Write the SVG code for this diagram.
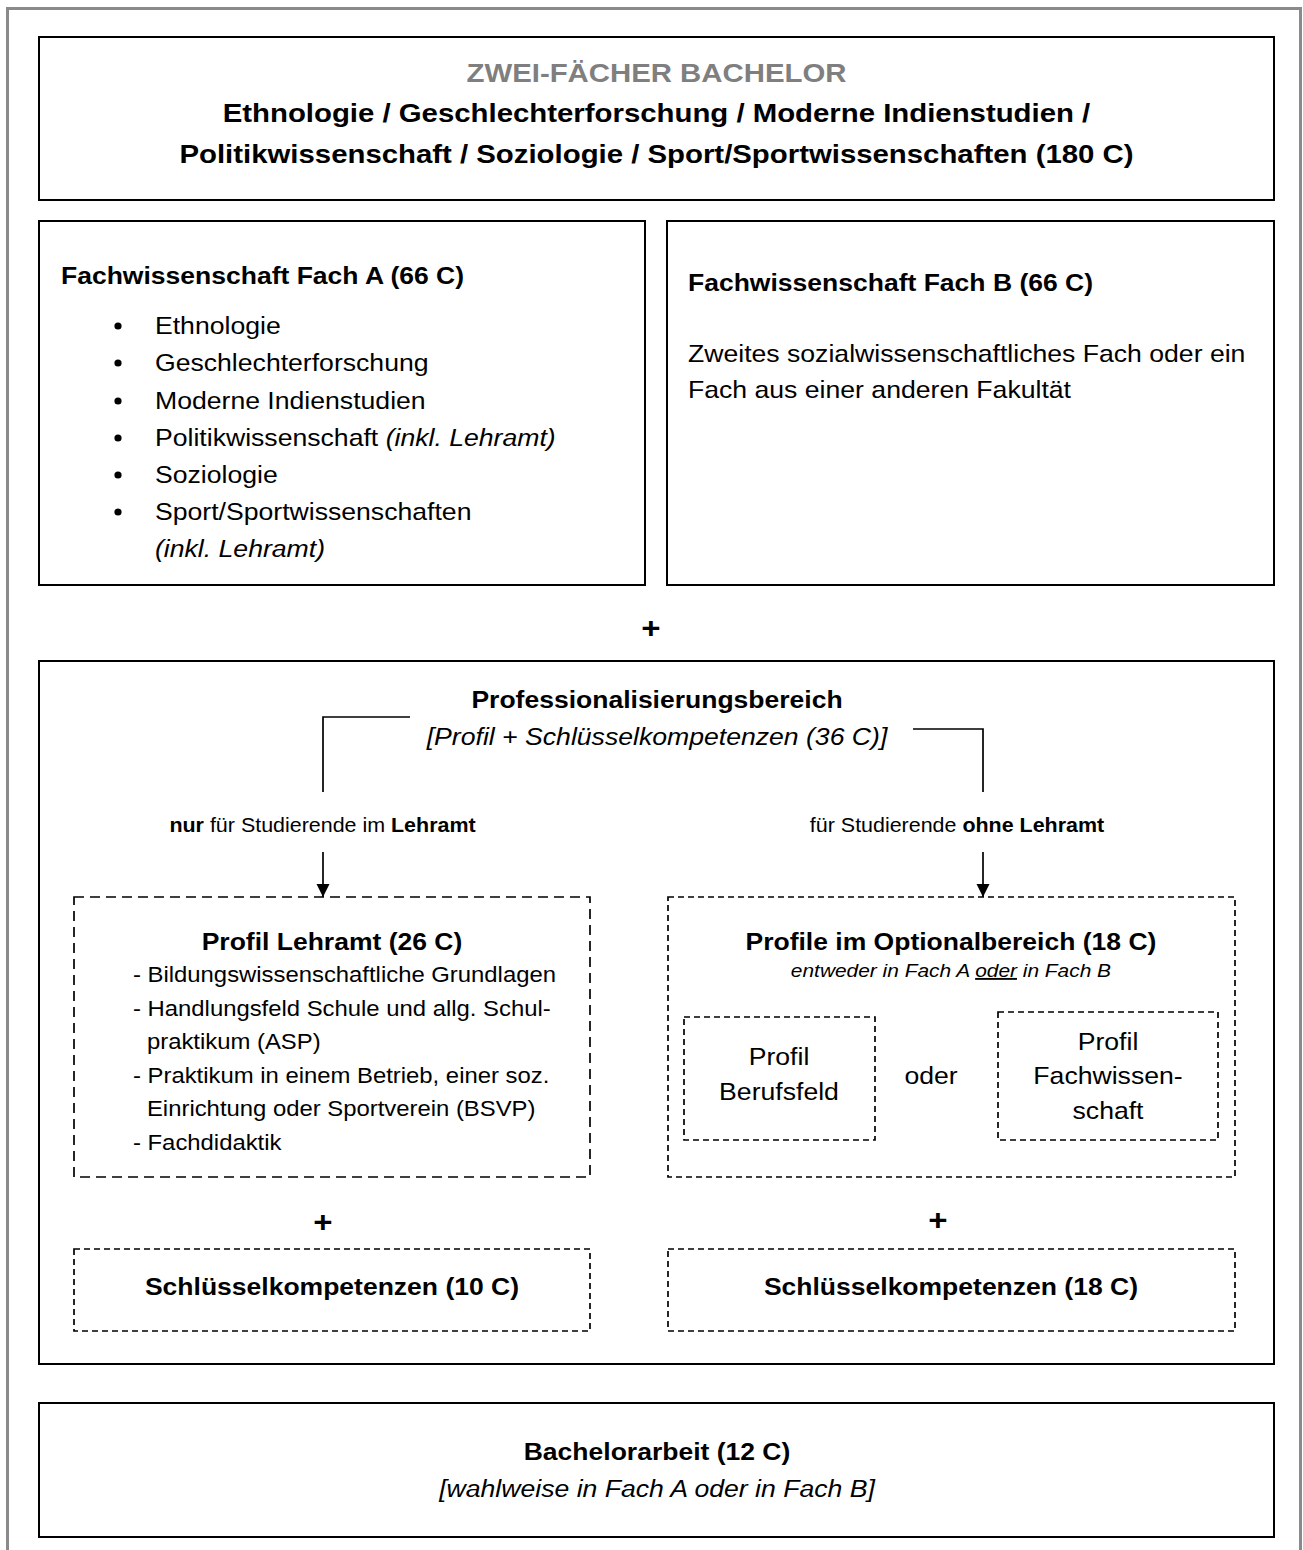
<svg xmlns="http://www.w3.org/2000/svg" width="1303" height="1550" viewBox="0 0 1303 1550">
<defs>
<style>
.t{font-family:"Liberation Sans",Arial,sans-serif;fill:#000}
.b{font-weight:bold}
.i{font-style:italic}
.box{fill:#fff;stroke:#000;stroke-width:2}
.dl{fill:none;stroke:#000;stroke-width:1.7;stroke-dasharray:10 6}
.ds{fill:none;stroke:#000;stroke-width:1.7;stroke-dasharray:6 4}
.ln{fill:none;stroke:#000;stroke-width:1.7}
</style>
<marker id="ah" markerUnits="userSpaceOnUse" markerWidth="13" markerHeight="14" refX="13" refY="6.5" orient="auto">
<path d="M0,0 L13,6.5 L0,13 z" fill="#000"/>
</marker>
</defs>
<rect x="0" y="0" width="1303" height="1550" fill="#fff"/>
<rect x="7.5" y="8.5" width="1293" height="1560" fill="none" stroke="#8a8a8a" stroke-width="3"/>

<g id="title">
<rect class="box" x="39" y="37" width="1235" height="163"/>
<g transform="scale(1.1 1)">
<text class="t b" x="596.8" y="82" font-size="26.7" text-anchor="middle" style="fill:#7f7f7f">ZWEI-FÄCHER BACHELOR</text>
<text class="t b" x="596.8" y="122" font-size="26.7" text-anchor="middle">Ethnologie / Geschlechterforschung / Moderne Indienstudien /</text>
<text class="t b" x="596.8" y="163" font-size="26.7" text-anchor="middle">Politikwissenschaft / Soziologie / Sport/Sportwissenschaften (180 C)</text>
</g>
</g>

<g id="fachA">
<rect class="box" x="39" y="221" width="606" height="364"/>
<circle cx="118" cy="326" r="3.6"/>
<circle cx="118" cy="363" r="3.6"/>
<circle cx="118" cy="401" r="3.6"/>
<circle cx="118" cy="438" r="3.6"/>
<circle cx="118" cy="475" r="3.6"/>
<circle cx="118" cy="512" r="3.6"/>
<g transform="scale(1.1 1)">
<text class="t b" x="55.45" y="284" font-size="24.1">Fachwissenschaft Fach A (66 C)</text>
<text class="t" x="140.9" y="334" font-size="24.2">Ethnologie</text>
<text class="t" x="140.9" y="371" font-size="24.2">Geschlechterforschung</text>
<text class="t" x="140.9" y="409" font-size="24.2">Moderne Indienstudien</text>
<text class="t" x="140.9" y="446" font-size="24.2">Politikwissenschaft <tspan class="i">(inkl. Lehramt)</tspan></text>
<text class="t" x="140.9" y="483" font-size="24.2">Soziologie</text>
<text class="t" x="140.9" y="520" font-size="24.2">Sport/Sportwissenschaften</text>
<text class="t i" x="140.9" y="557" font-size="24.2">(inkl. Lehramt)</text>
</g>
</g>

<g id="fachB">
<rect class="box" x="667" y="221" width="607" height="364"/>
<g transform="scale(1.1 1)">
<text class="t b" x="625.45" y="291" font-size="24.1">Fachwissenschaft Fach B (66 C)</text>
<text class="t" x="625.45" y="362" font-size="24.2">Zweites sozialwissenschaftliches Fach oder ein</text>
<text class="t" x="625.45" y="398" font-size="24.2">Fach aus einer anderen Fakultät</text>
</g>
</g>

<g id="plus1">
<g transform="scale(1.1 1)">
<text class="t b" x="591.8" y="638" font-size="30" text-anchor="middle">+</text>
</g>
</g>

<g id="profBereich">
<rect class="box" x="39" y="661" width="1235" height="703"/>
<g transform="scale(1.1 1)">
<text class="t b" x="597.3" y="708" font-size="24.1" text-anchor="middle">Professionalisierungsbereich</text>
<text class="t i" x="597.3" y="745" font-size="24.2" text-anchor="middle">[Profil + Schlüsselkompetenzen (36 C)]</text>
<text class="t" x="293.2" y="832" font-size="19.5" text-anchor="middle"><tspan class="b">nur</tspan> für Studierende im <tspan class="b">Lehramt</tspan></text>
<text class="t" x="870" y="832" font-size="19.5" text-anchor="middle">für Studierende <tspan class="b">ohne Lehramt</tspan></text>
</g>
</g>

<g id="profilLehramt">
<rect class="dl" x="74" y="897" width="516" height="280"/>
<g transform="scale(1.1 1)">
<text class="t b" x="301.8" y="950" font-size="24.1" text-anchor="middle">Profil Lehramt (26 C)</text>
<text class="t" x="120.9" y="982" font-size="21.7">- Bildungswissenschaftliche Grundlagen</text>
<text class="t" x="120.9" y="1016" font-size="21.7">- Handlungsfeld Schule und allg. Schul-</text>
<text class="t" x="133.6" y="1049" font-size="21.7">praktikum (ASP)</text>
<text class="t" x="120.9" y="1083" font-size="21.7">- Praktikum in einem Betrieb, einer soz.</text>
<text class="t" x="133.6" y="1116" font-size="21.7">Einrichtung oder Sportverein (BSVP)</text>
<text class="t" x="120.9" y="1150" font-size="21.7">- Fachdidaktik</text>
</g>
</g>

<g id="profilOptional">
<rect class="ds" x="668" y="897" width="567" height="280"/>
<g transform="scale(1.1 1)">
<text class="t b" x="864.5" y="950" font-size="24.1" text-anchor="middle">Profile im Optionalbereich (18 C)</text>
<text class="t i" x="864.5" y="977" font-size="19" text-anchor="middle">entweder in Fach A <tspan text-decoration="underline">oder</tspan> in Fach B</text>
<text class="t" x="846.4" y="1084" font-size="24.2" text-anchor="middle">oder</text>
</g>
</g>

<g id="profilBerufsfeld">
<rect class="ds" x="684" y="1017" width="191" height="123"/>
<g transform="scale(1.1 1)">
<text class="t" x="708.2" y="1065" font-size="24.2" text-anchor="middle">Profil</text>
<text class="t" x="708.2" y="1100" font-size="24.2" text-anchor="middle">Berufsfeld</text>
</g>
</g>

<g id="profilFachwissenschaft">
<rect class="ds" x="998" y="1012" width="220" height="128"/>
<g transform="scale(1.1 1)">
<text class="t" x="1007.3" y="1050" font-size="24.2" text-anchor="middle">Profil</text>
<text class="t" x="1007.3" y="1084" font-size="24.2" text-anchor="middle">Fachwissen-</text>
<text class="t" x="1007.3" y="1119" font-size="24.2" text-anchor="middle">schaft</text>
</g>
</g>

<g id="plus2">
<g transform="scale(1.1 1)">
<text class="t b" x="293.6" y="1232" font-size="30" text-anchor="middle">+</text>
<text class="t b" x="852.7" y="1230" font-size="30" text-anchor="middle">+</text>
</g>
</g>

<g id="schluessel10">
<rect class="ds" x="74" y="1249" width="516" height="82"/>
<g transform="scale(1.1 1)">
<text class="t b" x="301.8" y="1295" font-size="24.1" text-anchor="middle">Schlüsselkompetenzen (10 C)</text>
</g>
</g>

<g id="schluessel18">
<rect class="ds" x="668" y="1249" width="567" height="82"/>
<g transform="scale(1.1 1)">
<text class="t b" x="864.5" y="1295" font-size="24.1" text-anchor="middle">Schlüsselkompetenzen (18 C)</text>
</g>
</g>

<g id="bachelorarbeit">
<rect class="box" x="39" y="1403" width="1235" height="134"/>
<g transform="scale(1.1 1)">
<text class="t b" x="597.3" y="1460" font-size="24.1" text-anchor="middle">Bachelorarbeit (12 C)</text>
<text class="t i" x="597.3" y="1497" font-size="24.2" text-anchor="middle">[wahlweise in Fach A oder in Fach B]</text>
</g>
</g>

<g id="connectors">
<path class="ln" d="M410,717 H323 V792"/>
<path class="ln" d="M913,729 H983 V792"/>
<line class="ln" x1="323" y1="852" x2="323" y2="897" marker-end="url(#ah)"/>
<line class="ln" x1="983" y1="852" x2="983" y2="897" marker-end="url(#ah)"/>
</g>
</svg>
